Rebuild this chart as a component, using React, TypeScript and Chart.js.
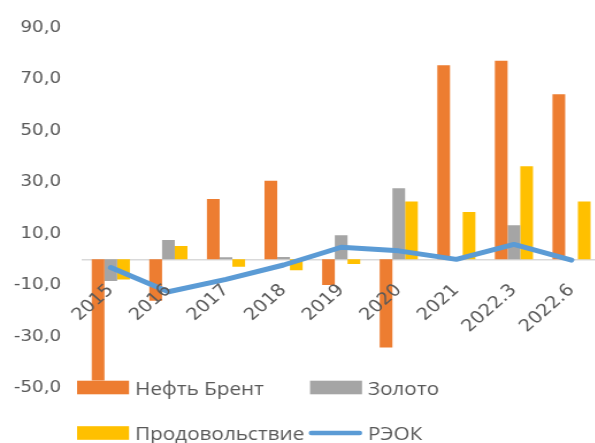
import React, { useEffect, useRef } from "react";
import { Chart, registerables } from "chart.js";

Chart.register(...registerables);

// ---- data ----
const categories = ["2015", "2016", "2017", "2018", "2019", "2020", "2021", "2022.3", "2022.6"];
const brent = [-47.0, -16.1, 23.4, 30.5, -10.0, -34.2, 75.4, 77.1, 64.1];
const gold = [-8.4, 7.5, 0.8, 0.9, 9.4, 27.6, 0, 13.2, 0];
const food = [-7.8, 5.2, -2.9, -4.2, -1.8, 22.5, 18.4, 36.2, 22.5];
const reok = [-3.2, -12.6, -7.8, -2.2, 4.7, 3.3, 0.0, 5.8, -0.3];
const seriesNames = ["Нефть Брент", "Золото", "Продовольствие", "РЭОК"];
const yMin = -50;
const yMax = 90;
const yStep = 20;

// ---- styling ----
const COLORS = ["#ED7D31", "#A5A5A5", "#FFC000", "#5B9BD5"];
const TEXT = "#595959";
const LEGEND_FONT = '"Open Sans", "DejaVu Sans", sans-serif';
const AXIS_FONT = '"DejaVu Sans", "Open Sans", sans-serif';
const SX = 1.15; // horizontal stretch of the reference picture
const W = 522;
const H = 443;

const legendLayout = [
  { x: 67, y: 380.7, tx: 117.4, ty: 394.5 },
  { x: 269.6, y: 380.7, tx: 320, ty: 394.5 },
  { x: 67, y: 426.2, tx: 117.4, ty: 440 },
  { x: 268.7, y: 426.2, tx: 320, ty: 440 },
];

const legendPlugin = {
  id: "customLegend",
  afterDraw(chart: any) {
    const ctx = chart.ctx;
    ctx.save();
    chart.data.datasets.forEach((ds: any, i: number) => {
      const L = legendLayout[i];
      if (ds.type === "line") {
        ctx.strokeStyle = ds.borderColor;
        ctx.lineWidth = 4.5;
        ctx.lineCap = "round";
        ctx.beginPath();
        ctx.moveTo(L.x + 2, L.y + 6.8);
        ctx.lineTo(L.x + 44, L.y + 6.8);
        ctx.stroke();
      } else {
        ctx.fillStyle = ds.backgroundColor;
        ctx.fillRect(L.x, L.y, 45.2, 13.6);
      }
      ctx.fillStyle = TEXT;
      ctx.font = `18px ${LEGEND_FONT}`;
      ctx.textBaseline = "alphabetic";
      ctx.textAlign = "left";
      ctx.fillText(ds.label, L.tx, L.ty);
    });
    ctx.restore();
  },
};

const flatX = (s: any) => {
  s.height = 0;
  s.paddingLeft = 0;
  s.paddingRight = 0;
  s.paddingTop = 0;
  s.paddingBottom = 0;
};

export default function App() {
  const ref = useRef<HTMLCanvasElement | null>(null);

  useEffect(() => {
    if (!ref.current) return;
    const chart = new Chart(ref.current, {
      type: "bar",
      data: {
        labels: categories,
        datasets: [
          { type: "bar", label: seriesNames[0], data: brent, backgroundColor: COLORS[0], order: 1 },
          { type: "bar", label: seriesNames[1], data: gold, backgroundColor: COLORS[1], order: 1 },
          { type: "bar", label: seriesNames[2], data: food, backgroundColor: COLORS[2], order: 1 },
          {
            type: "line",
            label: seriesNames[3],
            data: reok,
            borderColor: COLORS[3],
            backgroundColor: COLORS[3],
            borderWidth: 5,
            pointRadius: 0,
            tension: 0,
            borderCapStyle: "round",
            borderJoinStyle: "round",
            order: 0,
          } as any,
        ],
      },
      options: {
        responsive: false,
        animation: false,
        events: [],
        layout: { padding: { top: 27.5, bottom: H - 388.1, left: 0, right: 0 } },
        datasets: { bar: { categoryPercentage: 0.662, barPercentage: 1.0 } },
        plugins: { legend: { display: false }, tooltip: { enabled: false } },
        scales: {
          x: {
            position: { y: 0 } as any,
            offset: true,
            grid: { display: false, drawTicks: false },
            border: { display: true, color: "#D9D9D9", width: 1.5, z: 0 } as any,
            ticks: {
              z: 2,
              autoSkip: false,
              minRotation: 45,
              maxRotation: 45,
              padding: 21,
              color: TEXT,
              font: { family: AXIS_FONT, size: 17 },
            } as any,
            afterFit: flatX,
          },
          y: {
            min: yMin,
            max: yMax,
            grid: { display: false, drawTicks: false },
            border: { display: false },
            ticks: {
              stepSize: yStep,
              padding: 18,
              color: TEXT,
              font: { family: AXIS_FONT, size: 16 },
              callback: (v: any) => Number(v).toFixed(1).replace(".", ","),
            },
            afterFit: (s: any) => {
              s.width = 82 / SX;
            },
          },
        },
      },
      plugins: [legendPlugin],
    });
    return () => chart.destroy();
  }, []);

  return (
    <div
      style={{
        position: "fixed",
        left: 0,
        top: 0,
        width: 595,
        height: H,
        overflow: "hidden",
        background: "#ffffff",
      }}
    >
      <div style={{ width: W, height: H, transform: `scaleX(${SX})`, transformOrigin: "0 0" }}>
        <canvas ref={ref} width={W} height={H} style={{ display: "block", width: W, height: H }} />
      </div>
    </div>
  );
}
